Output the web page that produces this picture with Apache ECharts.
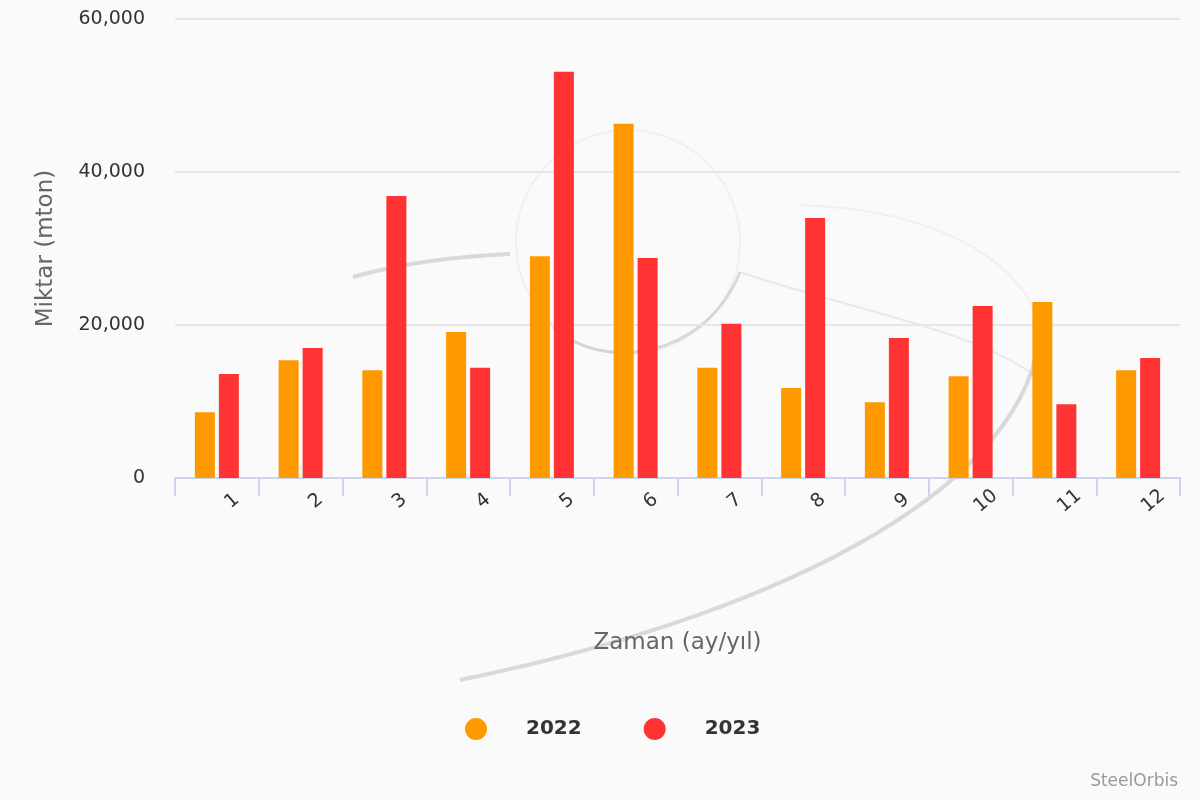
<!DOCTYPE html>
<html>
<head>
<meta charset="utf-8">
<script src="https://cdn.jsdelivr.net/npm/echarts@6/dist/echarts.min.js"></script>
<style>
html,body{margin:0;padding:0;background:#fafafa;}
#chart{width:1200px;height:800px;}
</style>
</head>
<body>
<div id="chart"></div>
<script>
const categories = ['1','2','3','4','5','6','7','8','9','10','11','12'];
const seriesNames = ['2022','2023'];
const values2022 = [8600, 15400, 14100, 19100, 29000, 46300, 14400, 11750, 9900, 13300, 23000, 14100];
const values2023 = [13600, 17000, 36850, 14400, 53100, 28750, 20150, 34000, 18300, 22500, 9650, 15700];
const yTicks = {min: 0, max: 60000, interval: 20000};

const chart = echarts.init(document.getElementById('chart'), null, {renderer: 'canvas'});
const sans = 'DejaVu Sans';
const wm = 'rgba(190,190,190,0.55)';

const option = {
  backgroundColor: '#fafafa',
  animation: false,
  grid: {left: 175, right: 20, top: 19, bottom: 322},
  legend: {
    left: 460, top: 713,
    icon: 'circle', itemWidth: 22, itemHeight: 22, itemGap: 62,
    textStyle: {fontFamily: sans, fontWeight: 'bold', fontSize: 20, color: '#333', padding: [0,0,0,34]},
    data: seriesNames
  },
  graphic: [
    {type: 'circle', z: -10, silent: true, shape: {cx: 628, cy: 242, r: 112}, style: {fill: 'none', stroke: 'rgba(200,200,200,0.2)', lineWidth: 2}},
    {type: 'bezierCurve', z: -10, silent: true, shape: {x1: 353, y1: 277, x2: 510, y2: 254, cpx1: 420, cpy1: 258}, style: {fill: 'none', stroke: wm, lineWidth: 4}},
    {type: 'bezierCurve', z: -10, silent: true, shape: {x1: 553, y1: 327, x2: 740, y2: 272, cpx1: 600, cpy1: 372, cpx2: 705, cpy2: 360}, style: {fill: 'none', stroke: wm, lineWidth: 3}},
    {type: 'bezierCurve', z: -10, silent: true, shape: {x1: 740, y1: 272, x2: 1040, y2: 380, cpx1: 850, cpy1: 310, cpx2: 980, cpy2: 330}, style: {fill: 'none', stroke: 'rgba(200,200,200,0.35)', lineWidth: 2}},
    {type: 'bezierCurve', z: -10, silent: true, shape: {x1: 800, y1: 205, x2: 1040, y2: 330, cpx1: 950, cpy1: 210, cpx2: 1030, cpy2: 270}, style: {fill: 'none', stroke: 'rgba(200,200,200,0.2)', lineWidth: 2}},
    {type: 'bezierCurve', z: -10, silent: true, shape: {x1: 1040, y1: 330, x2: 460, y2: 680, cpx1: 1030, cpy1: 480, cpx2: 800, cpy2: 610}, style: {fill: 'none', stroke: wm, lineWidth: 4}},
    {type: 'text', z: 10, right: 22, top: 773, style: {text: 'SteelOrbis', font: '17px "DejaVu Sans"', fill: '#999'}}
  ],
  xAxis: {
    type: 'category',
    data: categories,
    name: 'Zaman (ay/yıl)',
    nameLocation: 'middle',
    nameGap: 154,
    nameTextStyle: {fontFamily: sans, fontSize: 23, color: '#666'},
    axisLine: {lineStyle: {color: '#ccd6eb', width: 2}},
    axisTick: {show: true, length: 18, lineStyle: {color: '#ccd6eb', width: 2}},
    axisLabel: {
      interval: 0, rotate: 40, align: 'center', verticalAlign: 'middle',
      margin: 36, padding: [0,0,0,40],
      fontFamily: sans, fontSize: 19, color: '#333'
    }
  },
  yAxis: {
    type: 'value',
    min: yTicks.min, max: yTicks.max, interval: yTicks.interval,
    name: 'Miktar (mton)',
    nameLocation: 'middle',
    nameGap: 117,
    nameRotate: 90,
    nameTextStyle: {fontFamily: sans, fontSize: 23, color: '#666'},
    axisLine: {show: false},
    axisTick: {show: false},
    axisLabel: {margin: 30, fontFamily: sans, fontSize: 19, color: '#333'},
    splitLine: {lineStyle: {color: '#e6e6e6', width: 2}}
  },
  series: [
    {name: seriesNames[0], type: 'bar', data: values2022, barWidth: 20, barGap: '20%', itemStyle: {color: '#ff9900'}},
    {name: seriesNames[1], type: 'bar', data: values2023, barWidth: 20, barGap: '20%', itemStyle: {color: '#ff3333'}}
  ]
};
chart.setOption(option);
</script>
</body>
</html>
